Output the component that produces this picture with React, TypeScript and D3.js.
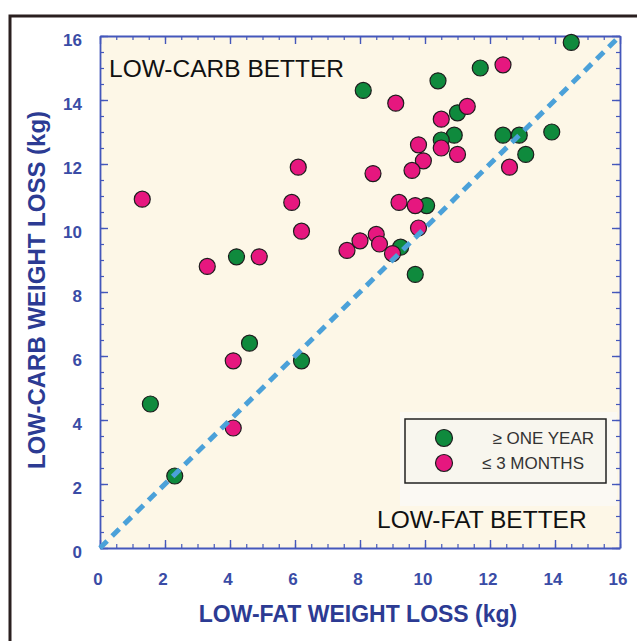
import { useRef, useEffect } from 'react';
import * as d3 from 'd3';

// >= one year trials
const oneYearX = [14.5, 11.7, 10.4, 8.1, 11.0, 10.9, 10.5, 12.4, 12.9, 13.9, 13.1, 10.05, 9.25, 9.7, 4.2, 4.6, 6.2, 1.55, 2.3];
const oneYearY = [15.8, 15.0, 14.6, 14.3, 13.6, 12.9, 12.75, 12.9, 12.9, 13.0, 12.3, 10.7, 9.4, 8.55, 9.1, 6.4, 5.85, 4.5, 2.25];
// <= 3 months trials
const threeMonthX = [1.3, 6.1, 5.9, 6.2, 7.6, 3.3, 4.9, 12.4, 9.1, 11.3, 10.5, 10.5, 9.8, 11.0, 9.95, 9.6, 8.4, 12.6, 9.2, 9.7, 9.8, 8.0, 8.5, 8.6, 9.0, 4.1, 4.1];
const threeMonthY = [10.9, 11.9, 10.8, 9.9, 9.3, 8.8, 9.1, 15.1, 13.9, 13.8, 13.4, 12.5, 12.6, 12.3, 12.1, 11.8, 11.7, 11.9, 10.8, 10.7, 10.0, 9.6, 9.8, 9.5, 9.2, 5.85, 3.75];

const majorTicks = [0, 2, 4, 6, 8, 10, 12, 14, 16];
const minorTicks = d3.range(0, 16.01, 0.5);
const legendLabels = ['\u2265 ONE YEAR', '\u2264 3 MONTHS'];

const GREEN = '#0f8a3d';
const PINK = '#e6177f';
const AXIS = '#4457bb';
const TICKTXT = '#3a4ca6';
const TITLE = '#2c3b93';
const FONT = '"Liberation Sans", Arial, Helvetica, sans-serif';

export default function App() {
  const svgRef = useRef<SVGSVGElement>(null);

  useEffect(() => {
    const w = 637;
    const h = 641;
    const left = 100, right = 620, top = 36, bottom = 548;
    const svg = d3.select(svgRef.current)
      .attr('width', w)
      .attr('height', h)
      .style('background', '#fff');
    svg.selectAll('*').remove();

    const x = d3.scaleLinear().domain([0, 16]).range([left, right]);
    const y = d3.scaleLinear().domain([0, 16]).range([bottom, top]);

    // outer frame (runs off the right and bottom edges)
    svg.append('rect')
      .attr('x', 10).attr('y', 16)
      .attr('width', 700).attr('height', 700)
      .attr('fill', '#fff')
      .attr('stroke', '#2a1f1f')
      .attr('stroke-width', 3);

    // plot background
    svg.append('rect')
      .attr('x', left).attr('y', top)
      .attr('width', right - left).attr('height', bottom - top)
      .attr('fill', '#fdf7e7');

    // pale patch behind legend
    svg.append('rect')
      .attr('x', 400).attr('y', 412)
      .attr('width', 217).attr('height', 94)
      .attr('fill', '#fbf9f3');

    // ticks on all four sides, pointing inward
    const sides = [
      { axis: d3.axisBottom(x), tr: `translate(0,${bottom})` },
      { axis: d3.axisTop(x), tr: `translate(0,${top})` },
      { axis: d3.axisLeft(y), tr: `translate(${left},0)` },
      { axis: d3.axisRight(y), tr: `translate(${right},0)` },
    ];
    sides.forEach(s => {
      svg.append('g')
        .attr('transform', s.tr)
        .call(s.axis.tickValues(minorTicks).tickSize(-4).tickSizeOuter(0).tickFormat(() => ''))
        .call(g => g.selectAll('line').attr('stroke', AXIS).attr('stroke-width', 1.2))
        .call(g => g.select('.domain').attr('stroke', AXIS).attr('stroke-width', 1.8));
      svg.append('g')
        .attr('transform', s.tr)
        .call(s.axis.tickValues(majorTicks).tickSize(-8).tickSizeOuter(0).tickFormat(() => ''))
        .call(g => g.selectAll('line').attr('stroke', AXIS).attr('stroke-width', 1.4))
        .call(g => g.select('.domain').remove());
    });

    // tick labels
    svg.append('g').selectAll('text')
      .data(majorTicks)
      .join('text')
      .attr('x', d => x(d) - 2)
      .attr('y', 585)
      .attr('text-anchor', 'middle')
      .attr('font-family', FONT)
      .attr('font-weight', 'bold')
      .attr('font-size', 17)
      .attr('fill', TICKTXT)
      .text(d => d);
    svg.append('g').selectAll('text')
      .data(majorTicks)
      .join('text')
      .attr('x', 82)
      .attr('y', d => y(d) + 10)
      .attr('text-anchor', 'end')
      .attr('font-family', FONT)
      .attr('font-weight', 'bold')
      .attr('font-size', 17)
      .attr('fill', TICKTXT)
      .text(d => d);

    // axis titles
    svg.append('text')
      .attr('x', (left + right) / 2 - 2)
      .attr('y', 622)
      .attr('text-anchor', 'middle')
      .attr('font-family', FONT)
      .attr('font-weight', 'bold')
      .attr('font-size', 23)
      .attr('fill', TITLE)
      .text('LOW-FAT WEIGHT LOSS (kg)');
    svg.append('text')
      .attr('transform', `translate(45,${(top + bottom) / 2 - 2}) rotate(-90)`)
      .attr('text-anchor', 'middle')
      .attr('font-family', FONT)
      .attr('font-weight', 'bold')
      .attr('font-size', 24)
      .attr('fill', TITLE)
      .text('LOW-CARB WEIGHT LOSS (kg)');

    // region labels
    svg.append('text')
      .attr('x', 109).attr('y', 77)
      .attr('font-family', FONT)
      .attr('font-size', 24.5)
      .attr('fill', '#111')
      .text('LOW-CARB BETTER');
    svg.append('text')
      .attr('x', 377).attr('y', 528)
      .attr('font-family', FONT)
      .attr('font-size', 24.5)
      .attr('fill', '#111')
      .text('LOW-FAT BETTER');

    // points
    const oneYear = oneYearX.map((v, i) => [v, oneYearY[i]]);
    const threeMonth = threeMonthX.map((v, i) => [v, threeMonthY[i]]);
    svg.append('g').selectAll('circle')
      .data(oneYear)
      .join('circle')
      .attr('cx', d => x(d[0]))
      .attr('cy', d => y(d[1]))
      .attr('r', 8)
      .attr('fill', GREEN)
      .attr('stroke', '#1d1d1d')
      .attr('stroke-width', 1.2);
    svg.append('g').selectAll('circle')
      .data(threeMonth)
      .join('circle')
      .attr('cx', d => x(d[0]))
      .attr('cy', d => y(d[1]))
      .attr('r', 8)
      .attr('fill', PINK)
      .attr('stroke', '#1d1d1d')
      .attr('stroke-width', 1.2);

    // line of equality
    const line = d3.line<number>().x(d => x(d)).y(d => y(d));
    svg.append('path')
      .attr('d', line([0, 16]))
      .attr('fill', 'none')
      .attr('stroke', '#4ba1d9')
      .attr('stroke-width', 5)
      .attr('stroke-dasharray', '10 7');

    // legend
    svg.append('rect')
      .attr('x', 405).attr('y', 419)
      .attr('width', 201).attr('height', 64)
      .attr('fill', '#f8f6ee')
      .attr('stroke', '#222')
      .attr('stroke-width', 1.5);
    const lg = svg.append('g').selectAll('g')
      .data(legendLabels)
      .join('g')
      .attr('transform', (d, i) => `translate(0,${438 + i * 25})`);
    lg.append('circle')
      .attr('cx', 444).attr('cy', 0).attr('r', 8.5)
      .attr('fill', (d, i) => (i === 0 ? GREEN : PINK))
      .attr('stroke', '#1d1d1d')
      .attr('stroke-width', 1.2);
    lg.append('text')
      .attr('x', (d, i) => (i === 0 ? 594 : 584))
      .attr('y', 6)
      .attr('text-anchor', 'end')
      .attr('font-family', FONT)
      .attr('font-size', 17)
      .attr('fill', '#333')
      .text(d => d);
  }, []);

  return <svg ref={svgRef} style={{ position: 'absolute', left: 0, top: 0, display: 'block' }}></svg>;
}
